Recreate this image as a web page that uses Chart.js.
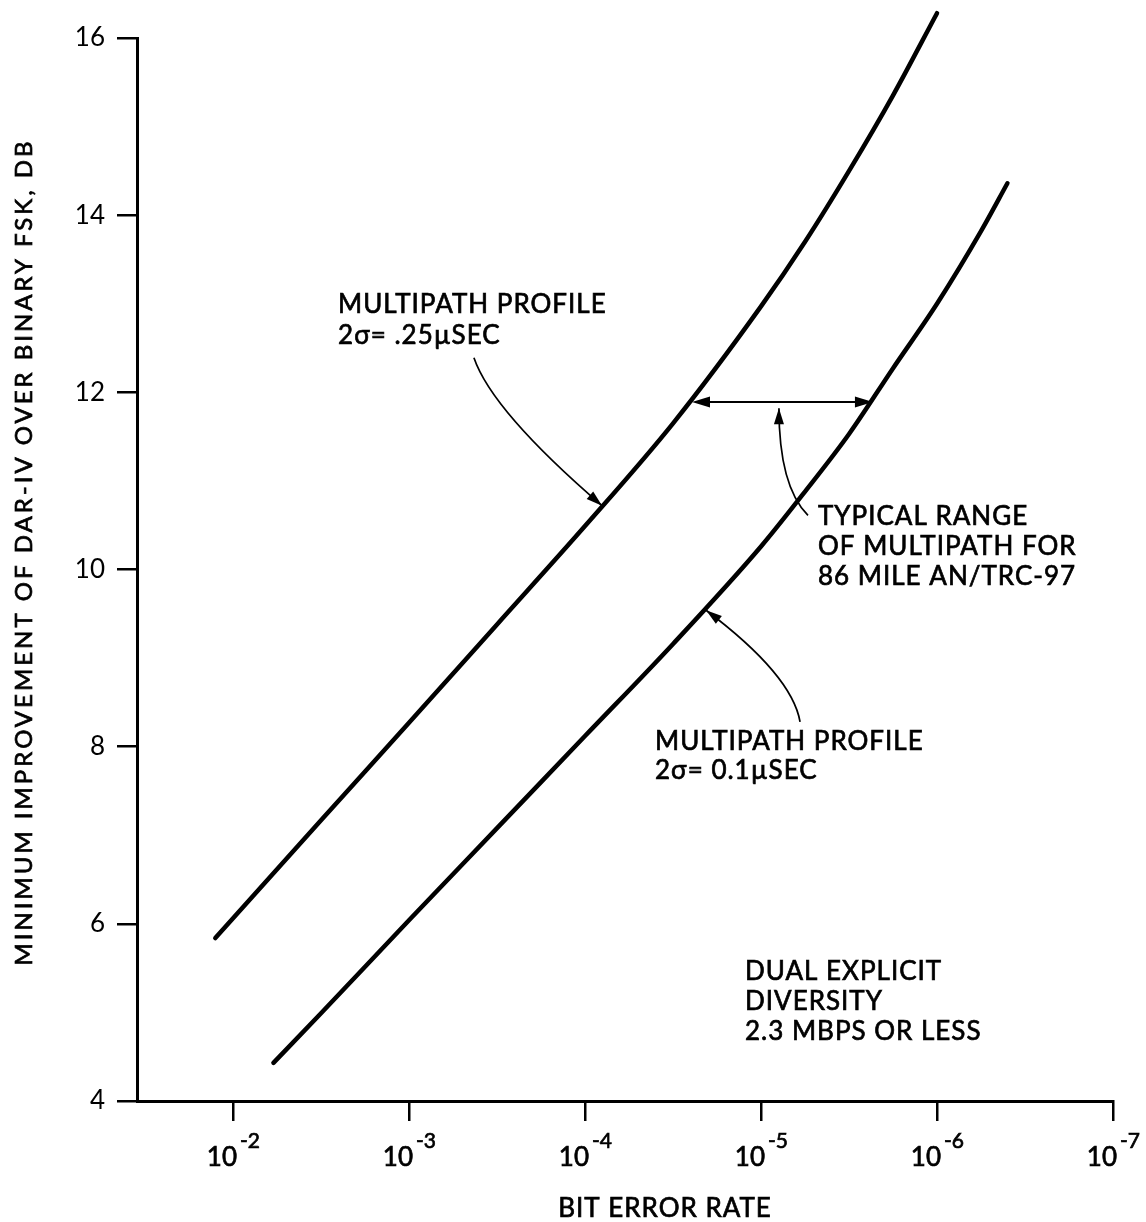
<!DOCTYPE html>
<html>
<head>
<meta charset="utf-8">
<script src="https://cdn.jsdelivr.net/npm/chart.js@4/dist/chart.umd.min.js"></script>
<style>
  body { margin: 0; background: #fff; }
  #wrap { width: 1146px; height: 1222px; }
</style>
</head>
<body>
<div id="wrap"><canvas id="berChart" width="1146" height="1222"></canvas></div>
<script>
// bit error rate (x) and improvement in dB (y)
var upperBer = [0.0126, 0.00316, 1e-3, 3.16e-4, 1e-4, 3.16e-5, 1e-5, 5.62e-6, 3.16e-6, 1.78e-6, 1e-6];
var upperDb  = [5.84, 7.17, 8.27, 9.38, 10.49, 11.65, 12.97, 13.70, 14.50, 15.35, 16.28];
var lowerBer = [0.00589, 0.00316, 1e-3, 3.16e-4, 1e-4, 3.16e-5, 1e-5, 5.62e-6, 3.16e-6, 1.78e-6, 1e-6, 5.62e-7, 3.98e-7];
var lowerDb  = [4.43, 4.99, 6.04, 7.08, 8.12, 9.16, 10.26, 10.88, 11.53, 12.27, 13.00, 13.82, 14.36];
var xTicks = [1e-2, 1e-3, 1e-4, 1e-5, 1e-6, 1e-7];
var yTicks = [4, 6, 8, 10, 12, 14, 16];

var FONT = 'Lato, "DejaVu Sans", sans-serif';

function pts(xs, ys) {
    return xs.map((v, i) => ({ x: v, y: ys[i] }));
}

function arrowHead(ctx, tip, from, len, half) {
    var dx = tip[0] - from[0], dy = tip[1] - from[1];
    var d = Math.sqrt(dx * dx + dy * dy);
    var ux = dx / d, uy = dy / d;
    var bx = tip[0] - ux * len, by = tip[1] - uy * len;
    ctx.beginPath();
    ctx.moveTo(tip[0], tip[1]);
    ctx.lineTo(bx - uy * half, by + ux * half);
    ctx.lineTo(bx + uy * half, by - ux * half);
    ctx.closePath();
    ctx.fill();
}

// slightly heavier text than the plain font
function txt(ctx, t, x, y) {
    ctx.fillText(t, x, y);
    ctx.lineWidth = 0.7;
    ctx.strokeText(t, x, y);
}

function textLines(ctx, x, y, lines, gap) {
    lines.forEach((t, i) => txt(ctx, t, x, y + i * gap));
}

// leader lines, labels and custom tick labels
const annotations = {
    id: 'annotations',
    afterDraw(chart) {
        const ctx = chart.ctx;
        const xs = chart.scales.x, ys = chart.scales.y;
        // e = -log10(BER)
        const P = (e, db) => [xs.getPixelForValue(Math.pow(10, -e)), ys.getPixelForValue(db)];
        ctx.save();
        ctx.fillStyle = '#000';
        ctx.strokeStyle = '#000';

        // x tick labels 10^-n
        xs.ticks.forEach(t => {
            var px = xs.getPixelForValue(t.value);
            var n = Math.round(-Math.log10(t.value));
            ctx.font = '26px ' + FONT;
            ctx.textAlign = 'right';
            txt(ctx, '10', px + 4, 1166);
            ctx.font = '21px ' + FONT;
            ctx.textAlign = 'left';
            txt(ctx, '-' + n, px + 7, 1148);
        });

        // axis titles
        ctx.font = '26px ' + FONT;
        ctx.letterSpacing = '1px';
        ctx.textAlign = 'center';
        txt(ctx, 'BIT ERROR RATE', 665, 1217);

        ctx.save();
        ctx.translate(32, 552);
        ctx.rotate(-Math.PI / 2);
        ctx.font = '24px ' + FONT;
        ctx.letterSpacing = '3px';
        txt(ctx, 'MINIMUM IMPROVEMENT OF DAR-IV OVER BINARY FSK, DB', 0, 0);
        ctx.restore();

        ctx.textAlign = 'left';
        ctx.font = '26px ' + FONT;
        ctx.letterSpacing = '1px';

        // upper curve label + leader
        var a = P(2.597, 12.90);
        textLines(ctx, a[0], a[1], ['MULTIPATH PROFILE', '2\u03c3= .25\u00b5SEC'], 31);
        ctx.lineWidth = 1.7;
        var s = P(3.369, 12.39), c = P(3.472, 11.79), t = P(4.097, 10.72);
        ctx.beginPath();
        ctx.moveTo(s[0], s[1]);
        ctx.quadraticCurveTo(c[0], c[1], t[0], t[1]);
        ctx.stroke();
        arrowHead(ctx, t, c, 16, 5);

        // range double arrow
        var l = P(4.608, 11.89), r = P(5.636, 11.89);
        ctx.lineWidth = 2;
        ctx.beginPath();
        ctx.moveTo(l[0] + 8, l[1]);
        ctx.lineTo(r[0] - 8, r[1]);
        ctx.stroke();
        arrowHead(ctx, l, r, 18, 5.5);
        arrowHead(ctx, r, l, 18, 5.5);

        // typical range leader + label
        ctx.lineWidth = 1.7;
        s = P(5.267, 10.61); c = P(5.102, 10.94); t = P(5.102, 11.82);
        ctx.beginPath();
        ctx.moveTo(s[0], s[1]);
        ctx.quadraticCurveTo(c[0], c[1], t[0], t[1]);
        ctx.stroke();
        arrowHead(ctx, t, c, 16, 5);
        a = P(5.324, 10.50);
        textLines(ctx, a[0], a[1], ['TYPICAL RANGE', 'OF MULTIPATH FOR', '86 MILE AN/TRC-97'], 30);

        // lower curve leader + label
        ctx.lineWidth = 1.7;
        s = P(5.222, 8.28); c = P(5.176, 8.81); t = P(4.688, 9.54);
        ctx.beginPath();
        ctx.moveTo(s[0], s[1]);
        ctx.quadraticCurveTo(c[0], c[1], t[0], t[1]);
        ctx.stroke();
        arrowHead(ctx, t, c, 16, 5);
        a = P(4.398, 7.96);
        textLines(ctx, a[0], a[1], ['MULTIPATH PROFILE', '2\u03c3= 0.1\u00b5SEC'], 29);

        // condition note
        a = P(4.909, 5.37);
        textLines(ctx, a[0], a[1], ['DUAL EXPLICIT', 'DIVERSITY', '2.3 MBPS OR LESS'], 30);

        ctx.restore();
    }
};

var ctx = document.getElementById('berChart').getContext('2d');
new Chart(ctx, {
    type: 'line',
    data: {
        datasets: [
            {
                label: '2\u03c3 = .25 \u00b5sec',
                data: pts(upperBer, upperDb),
                borderColor: '#000',
                borderWidth: 4.5,
                pointRadius: 0,
                cubicInterpolationMode: 'monotone',
                borderCapStyle: 'round',
                clip: false
            },
            {
                label: '2\u03c3 = 0.1 \u00b5sec',
                data: pts(lowerBer, lowerDb),
                borderColor: '#000',
                borderWidth: 4.5,
                pointRadius: 0,
                cubicInterpolationMode: 'monotone',
                borderCapStyle: 'round',
                clip: false
            }
        ]
    },
    options: {
        responsive: false,
        animation: false,
        layout: { padding: { top: 38, right: 33, left: 0, bottom: 0 } },
        plugins: {
            legend: { display: false },
            tooltip: { enabled: false }
        },
        scales: {
            x: {
                type: 'logarithmic',
                reverse: true,
                min: 1e-7,
                max: 0.0351,
                afterBuildTicks: function (axis) {
                    axis.ticks = xTicks.map(v => ({ value: v }));
                },
                afterFit: function (axis) { axis.height = 121; },
                ticks: { callback: () => '' },
                grid: { drawOnChartArea: false, drawTicks: true, tickLength: 20, color: '#000', lineWidth: 2.5 },
                border: { display: true, color: '#000', width: 3 }
            },
            y: {
                type: 'linear',
                min: 4,
                max: 16,
                afterBuildTicks: function (axis) {
                    axis.ticks = yTicks.map(v => ({ value: v }));
                },
                afterFit: function (axis) { axis.width = 137; },
                ticks: { color: '#000', padding: 12, font: { family: FONT, size: 26 } },
                grid: { drawOnChartArea: false, drawTicks: true, tickLength: 20, color: '#000', lineWidth: 2.5 },
                border: { display: true, color: '#000', width: 3 }
            }
        }
    },
    plugins: [annotations]
});
</script>
</body>
</html>
